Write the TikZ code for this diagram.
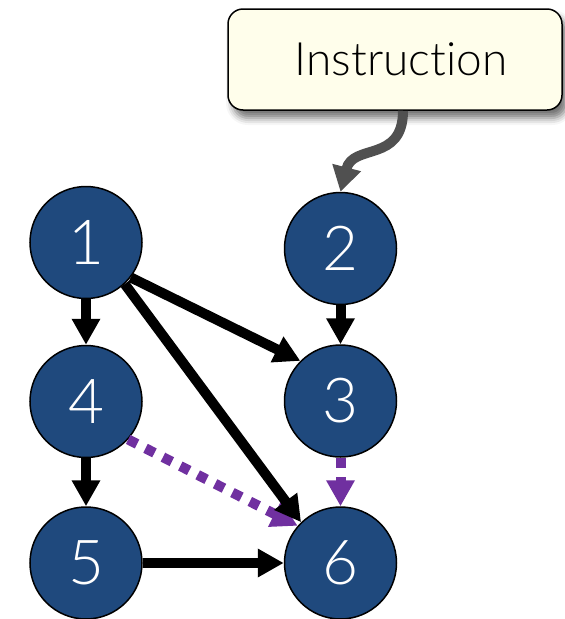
\documentclass[tikz,border=0pt]{standalone}
\usepackage{fontspec}
\setmainfont{Lato}[UprightFont={* Light},Ligatures={NoCommon}]
\usetikzlibrary{arrows.meta,shadows.blur}
\definecolor{nodeblue}{HTML}{1F497D}
\definecolor{notefill}{HTML}{FFFEEB}
\definecolor{hintpurple}{HTML}{7030A0}
\definecolor{hintgrey}{HTML}{505050}
\begin{document}
\begin{tikzpicture}[x=1pt,y=-1pt,
  vertex/.style={circle,draw=black,line width=1.5pt,fill=nodeblue,
    minimum size=112pt,inner sep=0pt,text=white,
    font=\fontsize{62}{62}\selectfont},
  note/.style={draw=black,line width=1.5pt,fill=notefill,rounded corners=15pt,
    minimum width=334pt,minimum height=101pt,inner sep=0pt,
    font=\fontsize{46}{46}\selectfont,
    blur shadow={shadow xshift=5pt,shadow yshift=-8pt,shadow blur radius=7pt,shadow opacity=55}},
  edge/.style={line width=10pt,-{Triangle[width=27pt,length=26pt]}},
  hint/.style={edge,hintpurple,dash pattern=on 10pt off 9.5pt},
  feed/.style={line width=10pt,hintgrey,-{Triangle[width=28pt,length=25pt]}}
]
\useasboundingbox (0,0) rectangle (565,619);

% instruction box
\node[note] (ins) at (395,59.5) {\hspace*{12pt}\raisebox{-3pt}{Instruction}};

% task nodes
\node[vertex] (n1) at (86,242.5) {1};
\node[vertex] (n2) at (340.5,248.5) {2};
\node[vertex] (n4) at (86,401.5) {4};
\node[vertex] (n3) at (340.5,401) {3};
\node[vertex] (n5) at (86,563) {5};
\node[vertex] (n6) at (340.5,563) {6};

% instruction feeds into node 2
\draw[feed] (ins.south -| 403,0) .. controls (403,163) and (353,143) .. (n2.north);

% dependencies
\draw[edge] (n1) -- (n4);
\draw[edge] (n2) -- (n3);
\draw[edge] (n4) -- (n5);
\draw[edge] (n5) -- (n6);
\draw[edge] (n1.-38) -- (n3.135);
\draw[hint] (n4.-42) -- (n6.139);
\draw[edge] (n1.-47) -- (n6.134);
\draw[hint] (n3) -- (n6);
\end{tikzpicture}
\end{document}
